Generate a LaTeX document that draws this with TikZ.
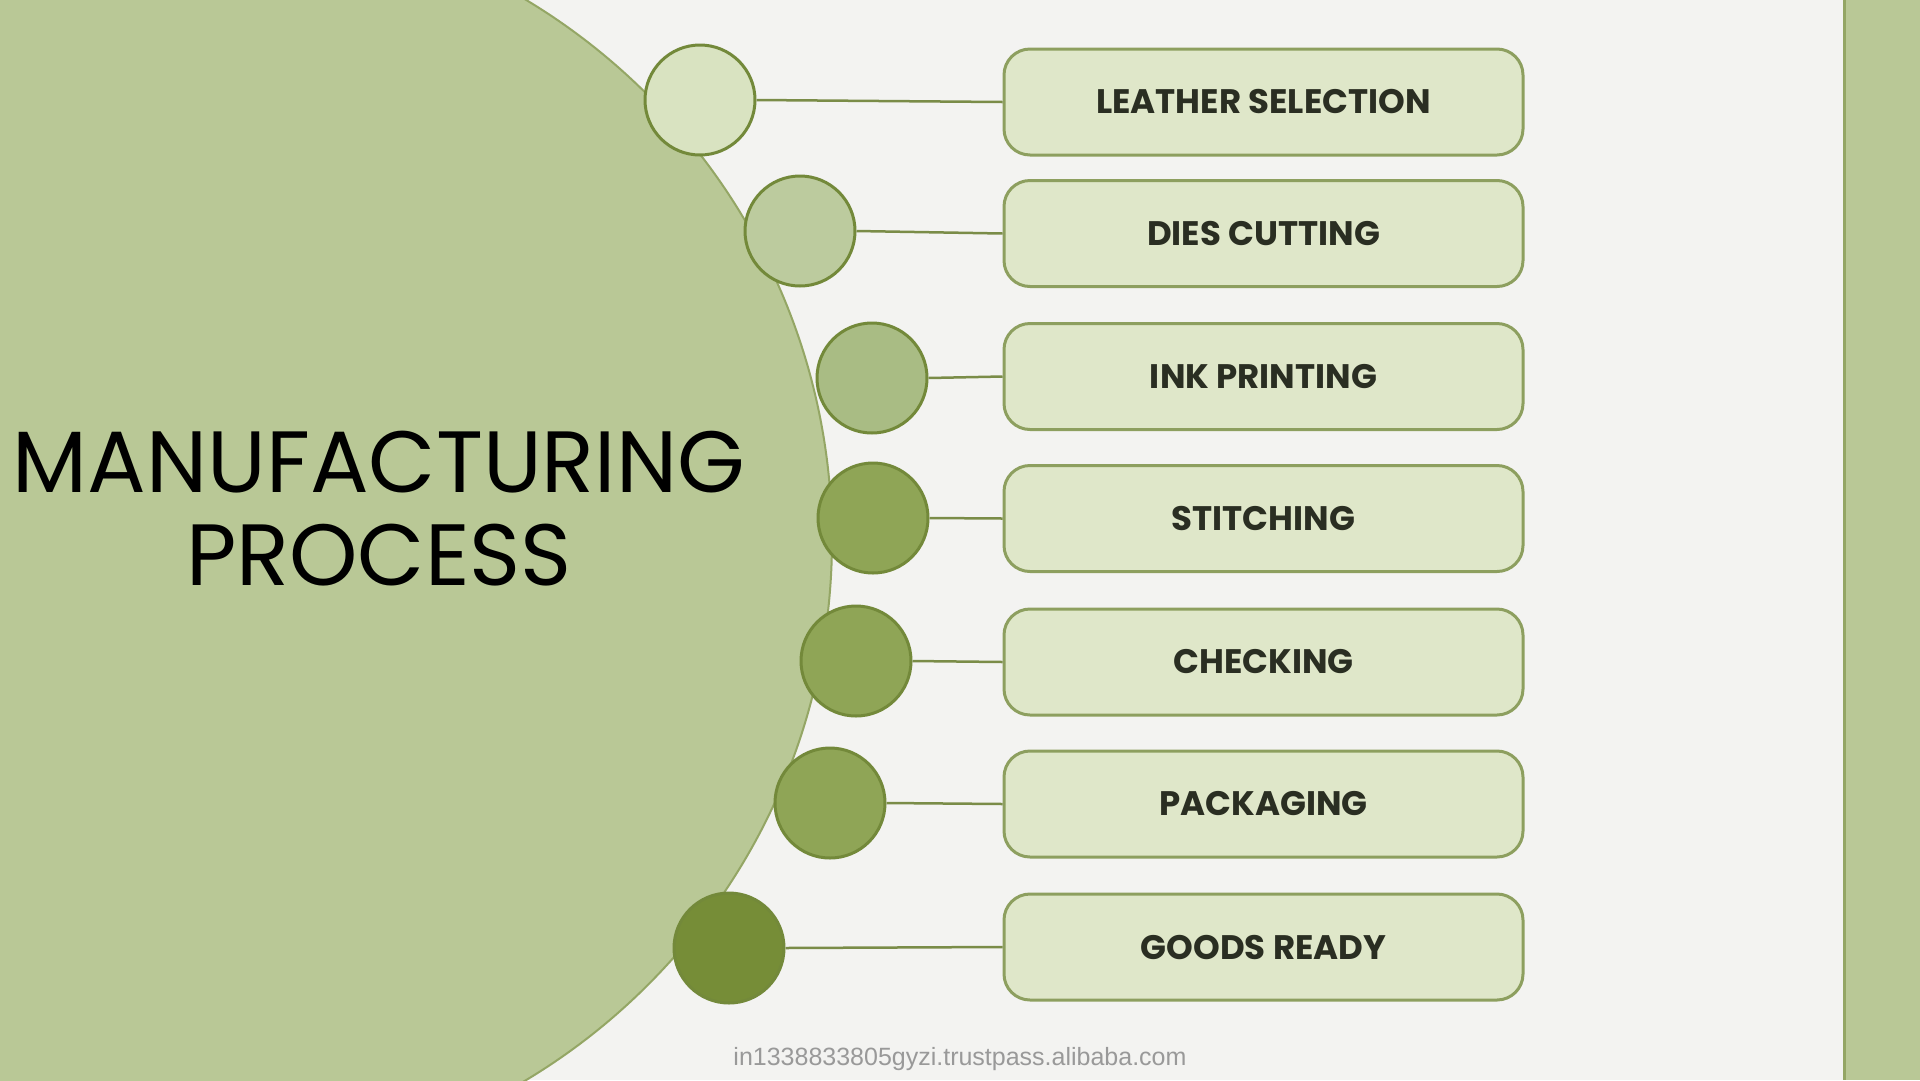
\documentclass[tikz,border=0pt]{standalone}
\usepackage{fontspec}
\setmainfont{Poppins}
\newfontfamily\wmfont{Liberation Sans}
\definecolor{bgc}{HTML}{F3F3F1}
\definecolor{bigfill}{HTML}{B9C896}
\definecolor{bigline}{HTML}{94A665}
\definecolor{cline}{HTML}{73893A}
\definecolor{cfa}{HTML}{D9E3C1}
\definecolor{cfb}{HTML}{BCCB9E}
\definecolor{cfc}{HTML}{A9BC84}
\definecolor{cfd}{HTML}{8FA556}
\definecolor{cfe}{HTML}{768D37}
\definecolor{boxfill}{HTML}{DFE7C9}
\definecolor{boxline}{HTML}{8D9F5F}
\definecolor{conn}{HTML}{7A8C48}
\definecolor{labeltext}{HTML}{2A2E22}
\tikzset{
  dot/.style={circle, draw=cline, line width=3pt, minimum size=110pt, inner sep=0pt},
  stepbox/.style={rectangle, rounded corners=26pt, draw=boxline, fill=boxfill, line width=3pt,
    minimum width=519pt, minimum height=106pt, inner sep=0pt,
    font=\fontsize{34}{38}\selectfont\bfseries, text=labeltext},
  link/.style={draw=conn, line width=2.5pt}
}
\begin{document}
\begin{tikzpicture}[x=1pt,y=-1pt]
\useasboundingbox (0,0) rectangle (1920,1080);
\fill[bgc] (0,0) rectangle (1920,1080);
\begin{scope}
\clip (0,0) rectangle (1920,1080);
\draw[fill=bigfill, draw=bigline, line width=2pt] (202.5,540) circle[radius=629.5pt];
\end{scope}
\fill[bigfill] (1843,0) rectangle (1920,1080);
\draw[bigline, line width=3pt] (1844,0) -- (1844,1080);
% title
\node[anchor=base, inner sep=0pt, font=\fontsize{87}{93}\selectfont] (t1) at (379,492) {MANUFACTURING};
\node[anchor=base, inner sep=0pt, font=\fontsize{87}{93}\selectfont] (t2) at (379,585) {PROCESS};
% circles
\node[dot, fill=cfa] (c1) at (700,100) {};
\node[dot, fill=cfb] (c2) at (800,231) {};
\node[dot, fill=cfc] (c3) at (872,378) {};
\node[dot, fill=cfd] (c4) at (873,518) {};
\node[dot, fill=cfd] (c5) at (856,661) {};
\node[dot, fill=cfd] (c6) at (830,803) {};
\node[dot, fill=cfe] (c7) at (729,948) {};
% boxes
\node[stepbox] (b1) at (1263.5,102) {LEATHER SELECTION};
\node[stepbox] (b2) at (1263.5,233.5) {DIES CUTTING};
\node[stepbox] (b3) at (1263.5,376.5) {INK PRINTING};
\node[stepbox] (b4) at (1263.5,518.5) {STITCHING};
\node[stepbox] (b5) at (1263.5,662) {CHECKING};
\node[stepbox] (b6) at (1263.5,804) {PACKAGING};
\node[stepbox] (b7) at (1263.5,947) {GOODS READY};
% connectors
\foreach \i in {1,...,7} { \draw[link] (c\i.east) -- (b\i.west); }
% watermark
\node[anchor=base, inner sep=0pt, text=black!40, font=\wmfont\fontsize{25}{28}\selectfont] (wm) at (960,1065) {in1338833805gyzi.trustpass.alibaba.com};
\end{tikzpicture}
\end{document}
